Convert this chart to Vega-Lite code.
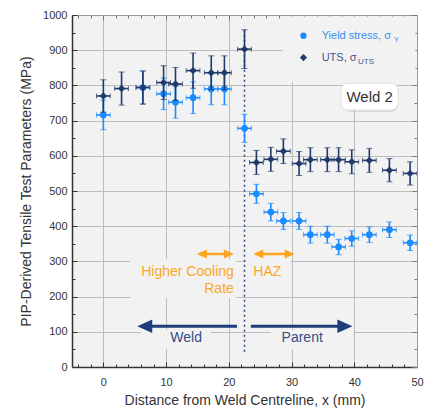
{
  "$schema": "https://vega.github.io/schema/vega-lite/v6.json",
  "width": 345,
  "height": 352,
  "autosize": "none",
  "padding": {"left": 72, "top": 15, "right": 16, "bottom": 43},
  "config": {
    "view": {"stroke": null, "fill": "#f2f2f2"},
    "font": "Liberation Sans",
    "axis": {"labelFont": "Liberation Sans", "titleFont": "Liberation Sans", "labelColor": "#333", "titleColor": "#333", "labelFontSize": 11, "titleFontSize": 14, "titleFontWeight": "normal", "gridColor": "#bdbdbd", "gridWidth": 1, "tickColor": "#333", "tickWidth": 1}
  },
  "datasets": {
    "pts": [
      {"s": "Yield", "x": 0, "y": 716, "ye": 42, "xe": 1.1},
      {"s": "Yield", "x": 6.3, "y": 794, "ye": 47, "xe": 1.1},
      {"s": "Yield", "x": 9.6, "y": 776, "ye": 45, "xe": 1.1},
      {"s": "Yield", "x": 11.5, "y": 752, "ye": 45, "xe": 1.1},
      {"s": "Yield", "x": 14.3, "y": 765, "ye": 45, "xe": 1.1},
      {"s": "Yield", "x": 17.2, "y": 790, "ye": 45, "xe": 1.1},
      {"s": "Yield", "x": 19.3, "y": 790, "ye": 45, "xe": 1.1},
      {"s": "Yield", "x": 22.5, "y": 678, "ye": 40, "xe": 1.1},
      {"s": "Yield", "x": 24.4, "y": 492, "ye": 27, "xe": 1.1},
      {"s": "Yield", "x": 26.7, "y": 440, "ye": 25, "xe": 1.1},
      {"s": "Yield", "x": 28.7, "y": 415, "ye": 24, "xe": 1.1},
      {"s": "Yield", "x": 31.2, "y": 415, "ye": 24, "xe": 1.1},
      {"s": "Yield", "x": 33.0, "y": 376, "ye": 24, "xe": 1.1},
      {"s": "Yield", "x": 35.7, "y": 376, "ye": 24, "xe": 1.1},
      {"s": "Yield", "x": 37.5, "y": 341, "ye": 22, "xe": 1.1},
      {"s": "Yield", "x": 39.6, "y": 365, "ye": 22, "xe": 1.1},
      {"s": "Yield", "x": 42.4, "y": 376, "ye": 22, "xe": 1.1},
      {"s": "Yield", "x": 45.6, "y": 390, "ye": 22, "xe": 1.1},
      {"s": "Yield", "x": 48.9, "y": 353, "ye": 22, "xe": 1.1},
      {"s": "UTS", "x": 0, "y": 770, "ye": 46, "xe": 1.1},
      {"s": "UTS", "x": 2.9, "y": 791, "ye": 47, "xe": 1.1},
      {"s": "UTS", "x": 6.3, "y": 794, "ye": 47, "xe": 1.1},
      {"s": "UTS", "x": 9.6, "y": 808, "ye": 48, "xe": 1.1},
      {"s": "UTS", "x": 11.5, "y": 804, "ye": 47, "xe": 1.1},
      {"s": "UTS", "x": 14.3, "y": 842, "ye": 50, "xe": 1.1},
      {"s": "UTS", "x": 17.2, "y": 836, "ye": 48, "xe": 1.1},
      {"s": "UTS", "x": 19.3, "y": 836, "ye": 48, "xe": 1.1},
      {"s": "UTS", "x": 22.5, "y": 903, "ye": 55, "xe": 1.1},
      {"s": "UTS", "x": 24.4, "y": 581, "ye": 34, "xe": 1.1},
      {"s": "UTS", "x": 26.7, "y": 590, "ye": 34, "xe": 1.1},
      {"s": "UTS", "x": 28.7, "y": 613, "ye": 35, "xe": 1.1},
      {"s": "UTS", "x": 31.2, "y": 578, "ye": 34, "xe": 1.1},
      {"s": "UTS", "x": 33.0, "y": 589, "ye": 34, "xe": 1.1},
      {"s": "UTS", "x": 35.7, "y": 589, "ye": 34, "xe": 1.1},
      {"s": "UTS", "x": 37.5, "y": 589, "ye": 34, "xe": 1.1},
      {"s": "UTS", "x": 39.6, "y": 583, "ye": 34, "xe": 1.1},
      {"s": "UTS", "x": 42.4, "y": 587, "ye": 34, "xe": 1.1},
      {"s": "UTS", "x": 45.6, "y": 559, "ye": 33, "xe": 1.1},
      {"s": "UTS", "x": 48.9, "y": 550, "ye": 33, "xe": 1.1}
    ]
  },
  "layer": [
    {
      "data": {"values": [
        {"x": 4.3, "x2": 21.2, "y": 196, "y2": 306},
        {"x": 22.8, "x2": 29.85, "y": 252, "y2": 308},
        {"x": 6.0, "x2": 17.1, "y": 52, "y2": 106},
        {"x": 26.7, "x2": 39.9, "y": 50, "y2": 106},
        {"x": 28.6, "x2": 49.75, "y": 810, "y2": 996}
      ]},
      "mark": {"type": "rect", "fill": "#f2f2f2"},
      "encoding": {
        "x": {"field": "x", "type": "quantitative", "scale": {"domain": [-5, 50], "nice": false, "zero": false},
          "axis": {"orient": "bottom", "values": [-4,-2,0,2,4,6,8,10,12,14,16,18,20,22,24,26,28,30,32,34,36,38,40,42,44,46,48,50],
            "format": "d",
            "labelExpr": "datum.value % 10 === 0 ? datum.label : ''",
            "tickSize": {"condition": {"test": "datum.value % 10 === 0", "value": -5}, "value": -3},
            "grid": true,
            "gridOpacity": {"condition": {"test": "datum.value % 10 === 0 && datum.value < 50", "value": 1}, "value": 0},
            "domainColor": "#333", "domainWidth": 1.5, "labelPadding": 14, "labelFlush": false,
            "title": "Distance from Weld Centreline, x (mm)", "titlePadding": 6}},
        "x2": {"field": "x2"},
        "y": {"field": "y", "type": "quantitative", "scale": {"domain": [0, 1000], "nice": false, "zero": false},
          "axis": {"orient": "left", "values": [0,50,100,150,200,250,300,350,400,450,500,550,600,650,700,750,800,850,900,950,1000],
            "format": "d",
            "labelExpr": "datum.value % 100 === 0 ? datum.label : ''",
            "tickSize": {"condition": {"test": "datum.value % 100 === 0", "value": -5}, "value": -3},
            "grid": true,
            "gridOpacity": {"condition": {"test": "datum.value % 100 === 0 && datum.value > 0 && datum.value < 1000", "value": 1}, "value": 0},
            "domainColor": "#333", "domainWidth": 1.5, "labelPadding": 10, "labelFlush": false,
            "title": "PIP-Derived Tensile Test Parameters (MPa)", "titlePadding": 9}},
        "y2": {"field": "y2"}
      }
    },
    {
      "data": {"values": [{"x": 22.5, "y": 43, "y2": 967}]},
      "mark": {"type": "rule", "color": "#2b4a80", "strokeWidth": 1.5, "strokeDash": [2, 3]},
      "encoding": {
        "x": {"field": "x", "type": "quantitative",
          "axis": {"orient": "top", "values": [-4,-2,0,2,4,6,8,10,12,14,16,18,20,22,24,26,28,30,32,34,36,38,40,42,44,46,48,50],
            "labels": false, "grid": false, "title": null,
            "tickSize": {"condition": {"test": "datum.value % 10 === 0", "value": -5}, "value": -3},
            "domainColor": "#999", "domainWidth": 1, "tickColor": "#777"}},
        "y": {"field": "y", "type": "quantitative",
          "axis": {"orient": "right", "values": [0,50,100,150,200,250,300,350,400,450,500,550,600,650,700,750,800,850,900,950,1000],
            "labels": false, "grid": false, "title": null,
            "tickSize": {"condition": {"test": "datum.value % 100 === 0", "value": -5}, "value": -3},
            "domainColor": "#999", "domainWidth": 1, "tickColor": "#777"}},
        "y2": {"field": "y2"}
      }
    },
    {
      "data": {"values": [
        {"x": 15.7, "x2": 20.0, "y": 321},
        {"x": 24.7, "x2": 29.7, "y": 321}
      ]},
      "mark": {"type": "rule", "color": "#ffa41c", "strokeWidth": 2.5},
      "encoding": {
        "x": {"field": "x", "type": "quantitative", "axis": null},
        "x2": {"field": "x2"},
        "y": {"field": "y", "type": "quantitative", "axis": null}
      }
    },
    {
      "data": {"values": [
        {"x": 15.7, "y": 321, "d": "L"},
        {"x": 20.0, "y": 321, "d": "R"},
        {"x": 24.7, "y": 321, "d": "L"},
        {"x": 29.7, "y": 321, "d": "R"}
      ]},
      "mark": {"type": "point", "filled": true, "color": "#ffa41c", "size": 100, "opacity": 1},
      "encoding": {
        "x": {"field": "x", "type": "quantitative", "axis": null},
        "y": {"field": "y", "type": "quantitative", "axis": null},
        "shape": {"field": "d", "type": "nominal", "legend": null, "scale": {"domain": ["L", "R"], "range": ["M-1,0L1,-0.9L1,0.9Z", "M1,0L-1,-0.9L-1,0.9Z"]}}
      }
    },
    {
      "data": {"values": [
        {"x": 6.6, "x2": 21.3, "y": 116},
        {"x": 23.5, "x2": 38.5, "y": 116}
      ]},
      "mark": {"type": "rule", "color": "#1f3d7a", "strokeWidth": 3},
      "encoding": {
        "x": {"field": "x", "type": "quantitative", "axis": null},
        "x2": {"field": "x2"},
        "y": {"field": "y", "type": "quantitative", "axis": null}
      }
    },
    {
      "data": {"values": [
        {"x": 6.6, "y": 116, "d": "L"},
        {"x": 38.5, "y": 116, "d": "R"}
      ]},
      "mark": {"type": "point", "filled": true, "color": "#1f3d7a", "size": 225, "opacity": 1},
      "encoding": {
        "x": {"field": "x", "type": "quantitative", "axis": null},
        "y": {"field": "y", "type": "quantitative", "axis": null},
        "shape": {"field": "d", "type": "nominal", "legend": null, "scale": {"domain": ["L", "R"], "range": ["M-1,0L1,-0.8L1,0.8Z", "M1,0L-1,-0.8L-1,0.8Z"]}}
      }
    },
    {
      "data": {"values": [
        {"x": 20.8, "y": 270, "t": "Higher Cooling"},
        {"x": 20.8, "y": 223, "t": "Rate"}
      ]},
      "mark": {"type": "text", "color": "#f9a825", "fontSize": 14, "align": "right", "baseline": "middle"},
      "encoding": {
        "x": {"field": "x", "type": "quantitative", "axis": null},
        "y": {"field": "y", "type": "quantitative", "axis": null},
        "text": {"field": "t"}
      }
    },
    {
      "data": {"values": [{"x": 23.9, "y": 270, "t": "HAZ"}]},
      "mark": {"type": "text", "color": "#f9a825", "fontSize": 14, "align": "left", "baseline": "middle"},
      "encoding": {
        "x": {"field": "x", "type": "quantitative", "axis": null},
        "y": {"field": "y", "type": "quantitative", "axis": null},
        "text": {"field": "t"}
      }
    },
    {
      "data": {"values": [
        {"x": 13.2, "y": 83, "t": "Weld"},
        {"x": 31.7, "y": 83, "t": "Parent"}
      ]},
      "mark": {"type": "text", "color": "#354d85", "fontSize": 14, "align": "center", "baseline": "middle"},
      "encoding": {
        "x": {"field": "x", "type": "quantitative", "axis": null},
        "y": {"field": "y", "type": "quantitative", "axis": null},
        "text": {"field": "t"}
      }
    },
    {
      "data": {"values": [{"x": 37.9, "x2": 47.0, "y": 730, "y2": 806}]},
      "mark": {"type": "rect", "fill": "#000", "opacity": 0.1, "cornerRadius": 7, "xOffset": 2, "yOffset": 2},
      "encoding": {
        "x": {"field": "x", "type": "quantitative", "axis": null},
        "x2": {"field": "x2"},
        "y": {"field": "y", "type": "quantitative", "axis": null},
        "y2": {"field": "y2"}
      }
    },
    {
      "data": {"values": [{"x": 37.9, "x2": 47.0, "y": 730, "y2": 806}]},
      "mark": {"type": "rect", "fill": "#ffffff", "stroke": "#e2e2e2", "strokeWidth": 1, "cornerRadius": 7},
      "encoding": {
        "x": {"field": "x", "type": "quantitative", "axis": null},
        "x2": {"field": "x2"},
        "y": {"field": "y", "type": "quantitative", "axis": null},
        "y2": {"field": "y2"}
      }
    },
    {
      "data": {"values": [{"x": 42.45, "y": 768, "t": "Weld 2"}]},
      "mark": {"type": "text", "color": "#333", "fontSize": 15, "align": "center", "baseline": "middle"},
      "encoding": {
        "x": {"field": "x", "type": "quantitative", "axis": null},
        "y": {"field": "y", "type": "quantitative", "axis": null},
        "text": {"field": "t"}
      }
    },
    {
      "data": {"values": [{"x": 31.9, "y": 941}]},
      "mark": {"type": "point", "shape": "circle", "filled": true, "color": "#1a8cff", "size": 40, "opacity": 1},
      "encoding": {
        "x": {"field": "x", "type": "quantitative", "axis": null},
        "y": {"field": "y", "type": "quantitative", "axis": null}
      }
    },
    {
      "data": {"values": [{"x": 31.9, "y": 879}]},
      "mark": {"type": "point", "shape": "diamond", "filled": true, "color": "#1f3a6b", "size": 50, "opacity": 1},
      "encoding": {
        "x": {"field": "x", "type": "quantitative", "axis": null},
        "y": {"field": "y", "type": "quantitative", "axis": null}
      }
    },
    {
      "data": {"values": [{"x": 34.8, "y": 941, "t": "Yield stress, σ"}]},
      "mark": {"type": "text", "color": "#3d8ef0", "fontSize": 11, "align": "left", "baseline": "middle"},
      "encoding": {
        "x": {"field": "x", "type": "quantitative", "axis": null},
        "y": {"field": "y", "type": "quantitative", "axis": null},
        "text": {"field": "t"}
      }
    },
    {
      "data": {"values": [{"x": 46.3, "y": 929, "t": "Y"}]},
      "mark": {"type": "text", "color": "#3d8ef0", "fontSize": 8, "align": "left", "baseline": "middle"},
      "encoding": {
        "x": {"field": "x", "type": "quantitative", "axis": null},
        "y": {"field": "y", "type": "quantitative", "axis": null},
        "text": {"field": "t"}
      }
    },
    {
      "data": {"values": [{"x": 34.8, "y": 879, "t": "UTS, σ"}]},
      "mark": {"type": "text", "color": "#44578a", "fontSize": 11, "align": "left", "baseline": "middle"},
      "encoding": {
        "x": {"field": "x", "type": "quantitative", "axis": null},
        "y": {"field": "y", "type": "quantitative", "axis": null},
        "text": {"field": "t"}
      }
    },
    {
      "data": {"values": [{"x": 40.6, "y": 867, "t": "UTS"}]},
      "mark": {"type": "text", "color": "#44578a", "fontSize": 8, "align": "left", "baseline": "middle"},
      "encoding": {
        "x": {"field": "x", "type": "quantitative", "axis": null},
        "y": {"field": "y", "type": "quantitative", "axis": null},
        "text": {"field": "t"}
      }
    },
    {
      "data": {"name": "pts"},
      "transform": [{"filter": "datum.s === 'Yield'"}],
      "mark": {"type": "errorbar", "color": "#1a8cff", "ticks": {"size": 6}, "rule": {"strokeWidth": 1.6}, "clip": true},
      "encoding": {
        "x": {"field": "x", "type": "quantitative", "axis": null},
        "y": {"field": "y", "type": "quantitative", "axis": null},
        "yError": {"field": "ye"}
      }
    },
    {
      "data": {"name": "pts"},
      "transform": [{"filter": "datum.s === 'Yield'"}],
      "mark": {"type": "errorbar", "color": "#1a8cff", "ticks": {"size": 5}, "rule": {"strokeWidth": 1.6}, "clip": true},
      "encoding": {
        "x": {"field": "x", "type": "quantitative", "axis": null},
        "y": {"field": "y", "type": "quantitative", "axis": null},
        "xError": {"field": "xe"}
      }
    },
    {
      "data": {"name": "pts"},
      "transform": [{"filter": "datum.s === 'Yield'"}],
      "mark": {"type": "point", "shape": "circle", "filled": true, "color": "#1a8cff", "size": 45, "opacity": 1},
      "encoding": {
        "x": {"field": "x", "type": "quantitative", "axis": null},
        "y": {"field": "y", "type": "quantitative", "axis": null}
      }
    },
    {
      "data": {"name": "pts"},
      "transform": [{"filter": "datum.s === 'UTS'"}],
      "mark": {"type": "errorbar", "color": "#1f3a6b", "ticks": {"size": 6}, "rule": {"strokeWidth": 1.6}, "clip": true},
      "encoding": {
        "x": {"field": "x", "type": "quantitative", "axis": null},
        "y": {"field": "y", "type": "quantitative", "axis": null},
        "yError": {"field": "ye"}
      }
    },
    {
      "data": {"name": "pts"},
      "transform": [{"filter": "datum.s === 'UTS'"}],
      "mark": {"type": "errorbar", "color": "#1f3a6b", "ticks": {"size": 5}, "rule": {"strokeWidth": 1.6}, "clip": true},
      "encoding": {
        "x": {"field": "x", "type": "quantitative", "axis": null},
        "y": {"field": "y", "type": "quantitative", "axis": null},
        "xError": {"field": "xe"}
      }
    },
    {
      "data": {"name": "pts"},
      "transform": [{"filter": "datum.s === 'UTS'"}],
      "mark": {"type": "point", "shape": "diamond", "filled": true, "color": "#1f3a6b", "size": 55, "opacity": 1},
      "encoding": {
        "x": {"field": "x", "type": "quantitative", "axis": null},
        "y": {"field": "y", "type": "quantitative", "axis": null}
      }
    }
  ]
}
